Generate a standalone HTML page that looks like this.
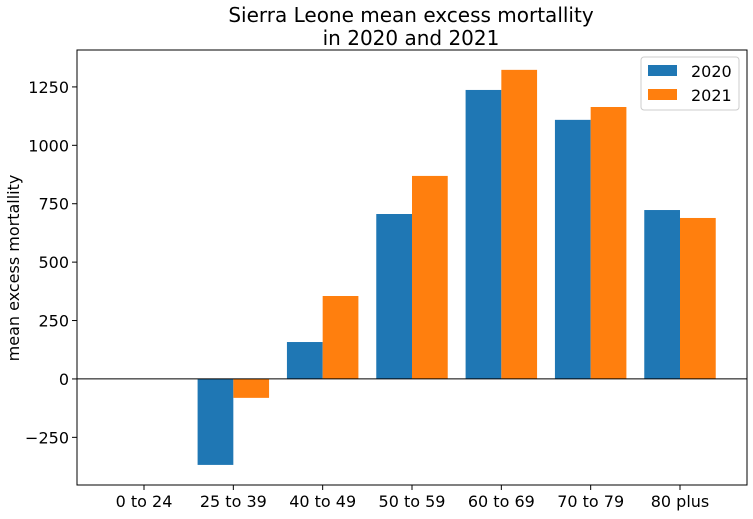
<!DOCTYPE html>
<html><head><meta charset="utf-8"><style>
body{margin:0;background:#fff}
svg{font-family:"DejaVu Sans","Liberation Sans",sans-serif}
</style></head><body>
<svg id="chart" width="753" height="514">
</svg>
<script>
const categories=["0 to 24","25 to 39","40 to 49","50 to 59","60 to 69","70 to 79","80 plus"];
const values2020=[0,-368,158,706,1237,1109,723];
const values2021=[0,-81,355,869,1323,1164,689];
const yTicks=[-250,0,250,500,750,1000,1250];
const yTickLabels=["\u2212250","0","250","500","750","1000","1250"];
const L=77,R=747,T=50,B=485,yMin=-454,yMax=1408,xMin=-0.75,xMax=6.75;
const sx=v=>L+(v-xMin)/(xMax-xMin)*(R-L);
const sy=v=>B-(v-yMin)/(yMax-yMin)*(B-T);
const svg=document.getElementById('chart');
const NS="http://www.w3.org/2000/svg";
function mk(tag,attrs,text){const e=document.createElementNS(NS,tag);for(const k in attrs)e.setAttribute(k,attrs[k]);if(text!==undefined)e.textContent=text;svg.appendChild(e);return e;}
const bw=0.4*(R-L)/(xMax-xMin);
const series=[[values2020,'#1f77b4',-1,'2020'],[values2021,'#ff7f0e',0,'2021']];
series.forEach(([vals,col,off,name])=>{
 vals.forEach((v,i)=>{
  const x=sx(i)+off*bw;const y0=sy(0),y1=sy(v);
  const r=mk('rect',{x:x,y:Math.min(y0,y1),width:bw,height:Math.abs(y1-y0),fill:col});
  
  
 });
});
const zl=mk('line',{x1:L,x2:R,y1:sy(0),y2:sy(0),stroke:'#000','stroke-width':1});


const fr=mk('rect',{x:L,y:T,width:R-L,height:B-T,fill:'none',stroke:'#000','stroke-width':1});


yTicks.forEach((t,i)=>{
 const y=sy(t);
 mk('line',{x1:L-5,x2:L,y1:y,y2:y,stroke:'#000'});
 const tx=mk('text',{x:L-8,y:y+6,'text-anchor':'end','font-size':16},yTickLabels[i]);
 
 
});
categories.forEach((c,i)=>{
 const x=sx(i);
 mk('line',{x1:x,x2:x,y1:B,y2:B+5,stroke:'#000'});
 const tx=mk('text',{x:x,y:B+22,'text-anchor':'middle','font-size':16},c);
 
 
});
const yt=mk('text',{x:19,y:268,'text-anchor':'middle','font-size':16,transform:'rotate(-90 19 268)'},'mean excess mortallity');


const t1=mk('text',{x:411,y:22,'text-anchor':'middle','font-size':20},'Sierra Leone mean excess mortallity');


const t2=mk('text',{x:411,y:45,'text-anchor':'middle','font-size':20},'in 2020 and 2021');


const lg=mk('rect',{x:641,y:57,width:98,height:53,fill:'#fff',stroke:'#ccc',rx:3});


series.forEach(([v,col,off,name],i)=>{
 const r=mk('rect',{x:648,y:65+i*24,width:29,height:11,fill:col});
 
 
 const t=mk('text',{x:691,y:77+i*24,'font-size':16},name);
 
 
});
</script>
</body></html>
